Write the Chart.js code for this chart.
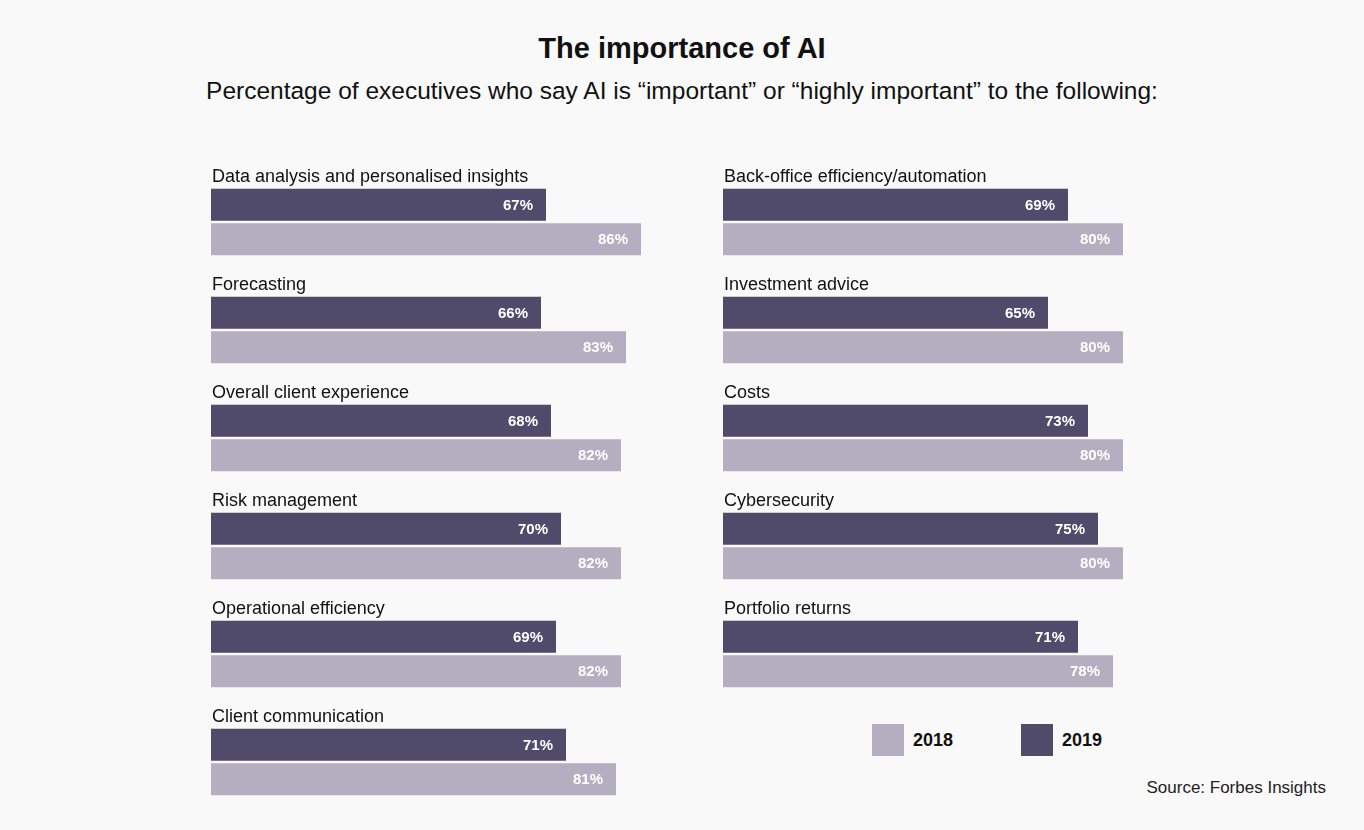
<!DOCTYPE html>
<html>
<head>
<meta charset="utf-8">
<script src="https://cdn.jsdelivr.net/npm/chart.js@4"></script>
<style>
  body { margin: 0; background: #f9f9f9; font-family: "Liberation Sans", Arial, sans-serif; }
  .wrap { position: relative; width: 1364px; height: 830px; }
  h1 { position: absolute; top: 32px; left: 0; width: 100%; margin: 0; text-align: center; font-size: 29px; font-weight: bold; color: #111; }
  .sub { position: absolute; top: 77px; left: 0; width: 100%; text-align: center; font-size: 24.5px; color: #111; }
  .box { position: absolute; width: 500px; }
  .leg { position: absolute; top: 724px; width: 32px; height: 32px; }
  .legt { position: absolute; top: 730px; font-size: 18px; font-weight: bold; color: #111; }
  .src { position: absolute; top: 778px; right: 38px; font-size: 17px; color: #222; }
</style>
</head>
<body>
<div class="wrap">
  <h1>The importance of AI</h1>
  <div class="sub">Percentage of executives who say AI is “important” or “highly important” to the following:</div>
  <div class="box" style="left:211px; top:168px; height:648px;"><canvas id="left"></canvas></div>
  <div class="box" style="left:723px; top:168px; height:540px;"><canvas id="right"></canvas></div>
  <div class="leg" style="left:872px; background:#b5aec0;"></div>
  <div class="legt" style="left:913px;">2018</div>
  <div class="leg" style="left:1021px; background:#504b6b;"></div>
  <div class="legt" style="left:1062px;">2019</div>
  <div class="src">Source: Forbes Insights</div>
</div>
<script>
const leftCategories = ["Data analysis and personalised insights", "Forecasting", "Overall client experience",
  "Risk management", "Operational efficiency", "Client communication"];
const left2019 = [67, 66, 68, 70, 69, 71];
const left2018 = [86, 83, 82, 82, 82, 81];

const rightCategories = ["Back-office efficiency/automation", "Investment advice", "Costs",
  "Cybersecurity", "Portfolio returns"];
const right2019 = [69, 65, 73, 75, 71];
const right2018 = [80, 80, 80, 80, 78];

const labelPlugin = {
  id: "barLabels",
  afterDatasetsDraw(chart) {
    const ctx = chart.ctx;
    ctx.save();
    // category names above the top bar
    const top = chart.getDatasetMeta(0);
    ctx.fillStyle = "#111";
    ctx.font = "18px 'Liberation Sans', Arial, sans-serif";
    ctx.textAlign = "left";
    ctx.textBaseline = "alphabetic";
    top.data.forEach((bar, i) => {
      ctx.fillText(chart.data.labels[i], chart.chartArea.left + 1, bar.y - bar.height / 2 - 7);
    });
    // values inside bar ends
    ctx.fillStyle = "#fff";
    ctx.font = "bold 15px 'Liberation Sans', Arial, sans-serif";
    ctx.textAlign = "right";
    ctx.textBaseline = "middle";
    chart.data.datasets.forEach((ds, d) => {
      chart.getDatasetMeta(d).data.forEach((bar, i) => {
        ctx.fillText(ds.data[i] + "%", bar.x - 13, bar.y + 1);
      });
    });
    ctx.restore();
  }
};

function makeChart(id, labels, v2019, v2018) {
  new Chart(document.getElementById(id), {
    type: "bar",
    data: {
      labels,
      datasets: [
        { label: "2019", data: v2019, backgroundColor: "#504b6b" },
        { label: "2018", data: v2018, backgroundColor: "#b5aec0" },
      ],
    },
    options: {
      indexAxis: "y",
      responsive: true,
      maintainAspectRatio: false,
      animation: false,
      datasets: { bar: { categoryPercentage: 0.64, barPercentage: 0.93 } },
      plugins: { legend: { display: false }, tooltip: { enabled: false } },
      scales: {
        x: { display: false, min: 0, max: 100 },
        y: { display: false },
      },
    },
    plugins: [labelPlugin],
  });
}

makeChart("left", leftCategories, left2019, left2018);
makeChart("right", rightCategories, right2019, right2018);
</script>
</body>
</html>
